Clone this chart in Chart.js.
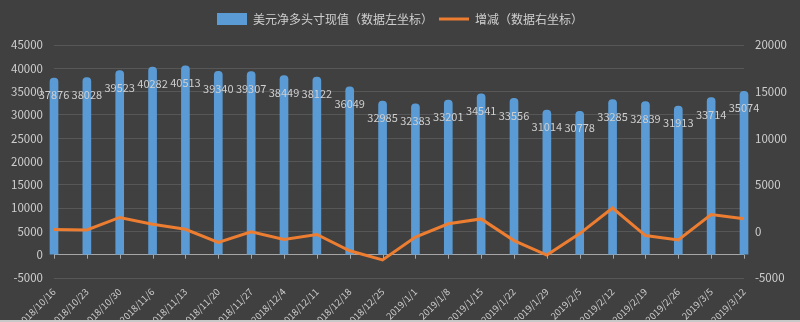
<!DOCTYPE html>
<html>
<head>
<meta charset="utf-8">
<script src="https://cdn.jsdelivr.net/npm/chart.js@4/dist/chart.umd.min.js"></script>
<style>
  html, body { margin: 0; padding: 0; background: #404040; }
  #wrap { width: 800px; height: 320px; border-bottom: 2px solid #c8c8c8; }
</style>
</head>
<body>
<div id="wrap"><canvas id="chart" width="800" height="320"></canvas></div>
<script>
// 周度日期
const dates = [
  '2018/10/16', '2018/10/23', '2018/10/30', '2018/11/6', '2018/11/13', '2018/11/20',
  '2018/11/27', '2018/12/4', '2018/12/11', '2018/12/18', '2018/12/25', '2019/1/1',
  '2019/1/8', '2019/1/15', '2019/1/22', '2019/1/29', '2019/2/5', '2019/2/12',
  '2019/2/19', '2019/2/26', '2019/3/5', '2019/3/12'
];
// 美元净多头寸现值（左轴）
const netLong = [
  37876, 38028, 39523, 40282, 40513, 39340, 39307, 38449, 38122, 36049, 32985,
  32383, 33201, 34541, 33556, 31014, 30778, 33285, 32839, 31913, 33714, 35074
];
// 周增减（右轴）
const change = [
  200, 152, 1495, 759, 231, -1173, -33, -858, -327, -2073, -3064,
  -602, 818, 1340, -985, -2542, -236, 2507, -446, -926, 1801, 1360
];

const leftTicks = { min: -5000, max: 45000, step: 5000 };
const rightTicks = { min: -5000, max: 20000, step: 5000 };

const BLUE = '#5b9bd5';
const ORANGE = '#ed7d31';
const TEXT = '#cfcfcf';
const FONT = '"Noto Sans CJK SC", "Noto Sans", sans-serif';

Chart.defaults.font.family = FONT;

const plain = v => String(v);

// 柱子数值标签 + 零轴刻度线
const barLabels = {
  id: 'barLabels',
  afterDatasetsDraw(chart) {
    const { ctx, scales } = chart;
    const bars = chart.getDatasetMeta(1).data;
    ctx.save();
    ctx.font = '11px ' + FONT;
    ctx.fillStyle = TEXT;
    ctx.textAlign = 'center';
    ctx.textBaseline = 'middle';
    bars.forEach((bar, i) => {
      ctx.fillText(String(netLong[i]), bar.x, bar.y + 17);
    });

    const y0 = scales.y.getPixelForValue(0);
    ctx.strokeStyle = '#a6a6a6';
    ctx.lineWidth = 1;
    ctx.beginPath();
    scales.x.ticks.forEach((t, i) => {
      const x = Math.round(scales.x.getPixelForTick(i)) + 0.5;
      ctx.moveTo(x, y0);
      ctx.lineTo(x, y0 + 4);
    });
    ctx.stroke();
    ctx.restore();
  }
};

new Chart(document.getElementById('chart'), {
  type: 'bar',
  data: {
    labels: dates,
    datasets: [
      {
        type: 'line',
        label: '增减（数据右坐标）',
        data: change,
        yAxisID: 'y1',
        borderColor: ORANGE,
        backgroundColor: ORANGE,
        borderWidth: 3,
        pointRadius: 0,
        tension: 0,
        order: 0
      },
      {
        label: '美元净多头寸现值（数据左坐标）',
        data: netLong,
        yAxisID: 'y',
        backgroundColor: BLUE,
        borderWidth: 0,
        borderRadius: 4,
        barThickness: 8,
        clip: false,
        order: 1
      }
    ]
  },
  options: {
    responsive: false,
    animation: false,
    layout: { padding: { top: 7, left: 0, right: 0, bottom: 0 } },
    plugins: {
      tooltip: { enabled: false },
      // 空标题放在图例下面，留出与绘图区的间距
      title: {
        display: true,
        text: '',
        padding: 0,
        font: { size: 10, lineHeight: 1 }
      },
      legend: {
        position: 'top',
        weight: 3000,
        reverse: true,
        labels: {
          color: TEXT,
          font: { size: 12 },
          usePointStyle: true,
          pointStyleWidth: 30,
          boxHeight: 12,
          padding: 6,
          generateLabels(chart) {
            const items = Chart.defaults.plugins.legend.labels.generateLabels(chart);
            items.forEach(item => {
              if (item.datasetIndex === 0) {
                item.pointStyle = 'line';
                item.strokeStyle = ORANGE;
                item.lineWidth = 3;
              } else {
                item.pointStyle = 'rect';
                item.fillStyle = BLUE;
                item.lineWidth = 0;
              }
            });
            return items;
          }
        }
      }
    },
    scales: {
      x: {
        offset: false,
        grid: { display: false },
        border: { display: false },
        ticks: {
          color: TEXT,
          font: { size: 9.5 },
          autoSkip: false,
          minRotation: 45,
          maxRotation: 45,
          padding: 0
        },
        afterFit(s) { s.height = 42; }
      },
      y: {
        position: 'left',
        min: leftTicks.min,
        max: leftTicks.max,
        ticks: {
          stepSize: leftTicks.step, color: TEXT, font: { size: 11.5 }, padding: 11,
          callback: plain
        },
        grid: {
          drawTicks: false,
          color: ctx => (ctx.tick && ctx.tick.value === 0 ? '#a6a6a6' : '#575757')
        },
        border: { display: false },
        afterFit(s) { s.width = 54; }
      },
      y1: {
        position: 'right',
        min: rightTicks.min,
        max: rightTicks.max,
        ticks: {
          stepSize: rightTicks.step, color: TEXT, font: { size: 11.5 }, padding: 11,
          callback: plain
        },
        grid: { drawOnChartArea: false, drawTicks: false },
        border: { display: false },
        afterFit(s) { s.width = 56; }
      }
    }
  },
  plugins: [barLabels]
});
</script>
</body>
</html>
